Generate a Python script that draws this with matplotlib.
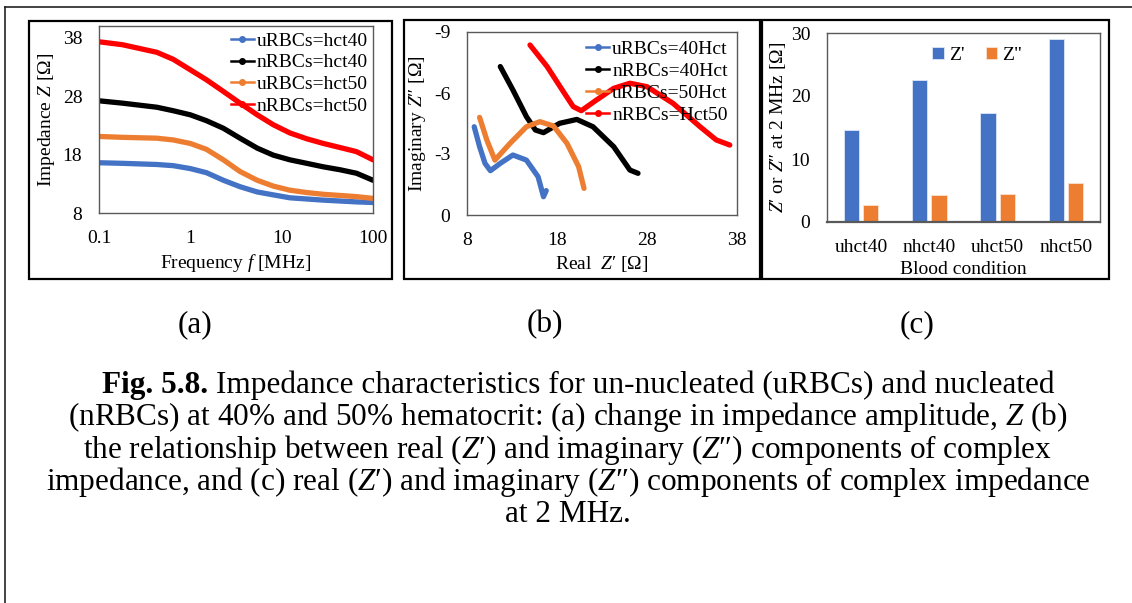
import numpy as np
import matplotlib.pyplot as plt
from matplotlib.lines import Line2D
from matplotlib.patches import Rectangle

plt.rcParams['font.family'] = ['Liberation Serif', 'DejaVu Serif']
plt.rcParams['mathtext.fontset'] = 'custom'
plt.rcParams['mathtext.rm'] = 'Liberation Serif'
plt.rcParams['mathtext.it'] = 'Liberation Serif:italic'
plt.rcParams['mathtext.bf'] = 'Liberation Serif:bold'
plt.rcParams['axes.unicode_minus'] = False

# --- (a) impedance amplitude vs frequency ---
freq_mhz = [0.1, 0.18, 0.43, 0.65, 1.0, 1.5, 2.3, 3.5, 5.4, 8.1, 12.3, 18.8, 28.6, 43.6, 66, 100]
z_u40 = [16.6, 16.5, 16.3, 16.1, 15.6, 14.9, 13.6, 12.5, 11.6, 11.1, 10.6, 10.4, 10.2, 10.05, 9.9, 9.8]
z_n40 = [27.2, 26.8, 26.1, 25.5, 24.8, 23.8, 22.5, 20.8, 19.1, 17.9, 17.1, 16.5, 15.9, 15.4, 14.8, 13.6]
z_u50 = [21.1, 20.95, 20.8, 20.5, 19.9, 18.9, 17.1, 15.1, 13.6, 12.6, 11.9, 11.5, 11.2, 11.0, 10.8, 10.5]
z_n50 = [37.3, 36.8, 35.5, 34.3, 32.5, 30.8, 28.8, 26.8, 24.8, 23.1, 21.7, 20.7, 19.9, 19.2, 18.5, 17.1]

# --- (b) Nyquist curves (real Z', imaginary Z'') ---
re_u40 = [8.8, 9.4, 10.0, 10.6, 11.7, 13.1, 14.6, 15.9, 16.5, 16.8]
im_u40 = [-4.34, -3.36, -2.54, -2.18, -2.54, -2.95, -2.7, -1.88, -0.9, -1.2]
re_n40 = [11.7, 13.1, 14.6, 15.6, 16.5, 18.3, 20.2, 22.0, 24.3, 26.1, 27.0]
im_n40 = [-7.3, -6.15, -4.84, -4.18, -4.05, -4.51, -4.7, -4.34, -3.36, -2.21, -2.05]
re_u50 = [9.4, 10.2, 11.1, 12.8, 14.6, 16.1, 17.6, 19.1, 20.4, 21.0]
im_u50 = [-4.8, -3.69, -2.7, -3.53, -4.34, -4.59, -4.38, -3.53, -2.38, -1.31]
re_n50 = [15.0, 16.9, 18.7, 19.8, 20.7, 22.4, 24.3, 26.1, 28.0, 30.9, 33.9, 35.7, 37.2]
im_n50 = [-8.36, -7.3, -6.07, -5.33, -5.13, -5.66, -6.23, -6.48, -6.31, -5.49, -4.34, -3.69, -3.44]

# --- (c) Z' and Z'' at 2 MHz ---
conditions = ['uhct40', 'nhct40', 'uhct50', 'nhct50']
z_real_2mhz = [14.6, 22.6, 17.3, 29.0]
z_imag_2mhz = [2.65, 4.25, 4.4, 6.15]

BLUE = '#4472C4'
ORANGE = '#ED7D31'
RED = '#FF0000'
FRAME = '#595959'
CURVE_LW = 3.8

W, H = 1132, 603
fig = plt.figure(figsize=(W / 100, H / 100), dpi=100)


def px_axes(x0, y0, x1, y1):
    return fig.add_axes([x0 / W, 1 - y1 / H, (x1 - x0) / W, (y1 - y0) / H])


def px_box(x0, y0, x1, y1, lw=1.6):
    fig.patches.append(Rectangle((x0 / W, 1 - y1 / H), (x1 - x0) / W, (y1 - y0) / H,
                                 transform=fig.transFigure, fill=False,
                                 edgecolor='black', linewidth=lw))


def style_axes(ax):
    for s in ax.spines.values():
        s.set_color(FRAME)
        s.set_linewidth(1.0)
    ax.tick_params(length=0, labelsize=14, pad=12)


def line_handle(color):
    return Line2D([], [], color=color, lw=1.8, marker='o', markersize=4)


def curve_legend(ax, labels, anchor):
    ax.legend([line_handle(c) for c in [BLUE, 'black', ORANGE, RED]], labels,
              loc='upper right', bbox_to_anchor=anchor, frameon=False, fontsize=14,
              handlelength=1.2, handletextpad=0.15, labelspacing=0.22, borderaxespad=0.0)


# outer frame and panel boxes
fig.add_artist(Line2D([5 / W, 1], [1 - 7 / H, 1 - 7 / H], transform=fig.transFigure,
                      color='#222222', lw=1.2))
fig.add_artist(Line2D([5 / W, 5 / W], [0, 1 - 7 / H], transform=fig.transFigure,
                      color='#222222', lw=1.2))
px_box(29, 21, 392, 279)
px_box(404, 20, 760, 279)
px_box(762, 20, 1109, 279)

# (a)
ax1 = px_axes(99, 26, 373, 213)
for z, c in [(z_u40, BLUE), (z_n40, 'black'), (z_u50, ORANGE), (z_n50, RED)]:
    ax1.plot(freq_mhz, z, color=c, lw=CURVE_LW, solid_capstyle='round', solid_joinstyle='round')
ax1.set_xscale('log')
ax1.set_xlim(0.1, 100)
ax1.set_ylim(8, 40)
ax1.set_xticks([0.1, 1, 10, 100])
ax1.set_xticklabels(['0.1', '1', '10', '100'])
ax1.minorticks_off()
ax1.set_yticks([8, 18, 28, 38])
style_axes(ax1)
ax1.set_xlabel(r'Frequency $f$ [MHz]', fontsize=14, labelpad=4)
ax1.set_ylabel(r'Impedance $Z$ [Ω]', fontsize=14, labelpad=4)
curve_legend(ax1, ['uRBCs=hct40', 'nRBCs=hct40', 'uRBCs=hct50', 'nRBCs=hct50'], (1.01, 1.01))

# (b)
ax2 = px_axes(467, 32, 737, 215)
for re, im, c in [(re_u40, im_u40, BLUE), (re_n40, im_n40, 'black'),
                  (re_u50, im_u50, ORANGE), (re_n50, im_n50, RED)]:
    ax2.plot(re, im, color=c, lw=CURVE_LW, solid_capstyle='round', solid_joinstyle='round')
ax2.set_xlim(8, 38)
ax2.set_ylim(0, -9)
ax2.set_xticks([8, 18, 28, 38])
ax2.set_yticks([0, -3, -6, -9])
style_axes(ax2)
ax2.set_xlabel('Real  $Z$′ [Ω]', fontsize=14, labelpad=4)
ax2.set_ylabel('Imaginary $Z$″ [Ω]', fontsize=14, labelpad=4)
curve_legend(ax2, ['uRBCs=40Hct', 'nRBCs=40Hct', 'uRBCs=50Hct', 'nRBCs=Hct50'], (0.995, 0.995))

# (c)
ax3 = px_axes(827, 33, 1100, 222)
x = np.arange(len(conditions))
bw = 0.225
ax3.bar(x - 0.142, z_real_2mhz, bw, color=BLUE, edgecolor='#dce6f5', linewidth=0.6, label="Z'")
ax3.bar(x + 0.142, z_imag_2mhz, bw, color=ORANGE, edgecolor='#fbe1d0', linewidth=0.6, label='Z"')
ax3.set_xlim(-0.5, 3.5)
ax3.set_ylim(0, 30)
ax3.set_xticks(x)
ax3.set_xticklabels(conditions)
ax3.set_yticks([0, 10, 20, 30])
style_axes(ax3)
ax3.spines['bottom'].set_linewidth(1.6)
ax3.set_xlabel('Blood condition', fontsize=14, labelpad=4)
ax3.set_ylabel('$Z$′ or $Z$″ at 2 MHz [Ω]', fontsize=14, labelpad=2)
ax3.legend(loc='upper center', bbox_to_anchor=(0.55, 1.02), ncol=2, frameon=False, fontsize=14,
           handlelength=0.6, handleheight=0.55, handletextpad=0.25, columnspacing=1.1)

# panel tags and figure caption
CAP_SIZE = 22.5
for tag, xp in [('(a)', 195), ('(b)', 545), ('(c)', 917)]:
    fig.text(xp / W, 1 - 325 / H, tag, ha='center', va='center', fontsize=CAP_SIZE)

caption = [
    'Impedance characteristics for un-nucleated (uRBCs) and nucleated',
    '(nRBCs) at 40% and 50% hematocrit: (a) change in impedance amplitude, $Z$ (b)',
    'the relationship between real ($Z$′) and imaginary ($Z$″) components of complex',
    'impedance, and (c) real ($Z$′) and imaginary ($Z$″) components of complex impedance',
    'at 2 MHz.',
]
cap_y = [385, 417, 450, 482, 514]
cx = 568

# first line: bold figure number followed by regular text, centred as one piece
renderer = fig.canvas.get_renderer()
head = fig.text(0, 0, 'Fig. 5.8. ', fontsize=CAP_SIZE, fontweight='bold', va='center')
rest = fig.text(0, 0, caption[0], fontsize=CAP_SIZE, va='center')
w_head = head.get_window_extent(renderer).width
w_rest = rest.get_window_extent(renderer).width
x_start = cx + 10 - (w_head + w_rest) / 2
head.set_position((x_start / W, 1 - cap_y[0] / H))
rest.set_position(((x_start + w_head) / W, 1 - cap_y[0] / H))

for line, yp in zip(caption[1:], cap_y[1:]):
    fig.text(cx / W, 1 - yp / H, line, ha='center', va='center', fontsize=CAP_SIZE)

fig.savefig('out.png', dpi=100)
